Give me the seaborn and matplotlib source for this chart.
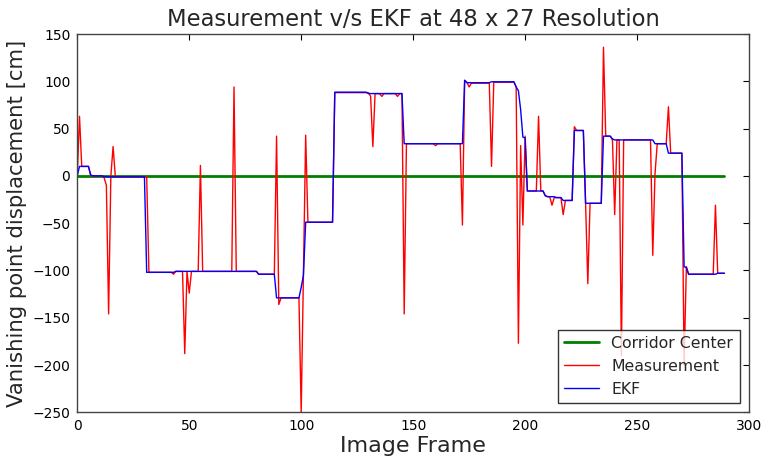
import numpy as np
import pandas as pd
import matplotlib
matplotlib.use("Agg")
import matplotlib.pyplot as plt
import seaborn as sns

title = "Measurement v/s EKF at 48 x 27 Resolution"
xlabel = "Image Frame"
ylabel = "Vanishing point displacement [cm]"
series_names = ["Corridor Center", "Measurement", "EKF"]
xticks = [0, 50, 100, 150, 200, 250, 300]
yticks = [-250, -200, -150, -100, -50, 0, 50, 100, 150]

measurement = [
    0, 63, 10, 10, 10, 10, 0, 0, 0, 0,
    0, 0, -2, -10, -146, 0, 31, -1, -1, -1,
    -1, -1, -1, -1, -1, -1, -1, -1, -1, -1,
    -1, -1, -102, -102, -102, -102, -102, -102, -102, -102,
    -102, -102, -102, -104, -101, -101, -101, -101, -188, -101,
    -124, -101, -101, -101, -101, 11, -101, -101, -101, -101,
    -101, -101, -101, -101, -101, -101, -101, -101, -101, -101,
    94, -101, -101, -101, -101, -101, -101, -101, -101, -101,
    -101, -104, -104, -104, -104, -104, -104, -104, -104, 42,
    -136, -129, -129, -129, -129, -129, -129, -129, -129, -129,
    -250, -105, 43, -49, -49, -49, -49, -49, -49, -49,
    -49, -49, -49, -49, -49, 88, 88, 88, 88, 88,
    88, 88, 88, 88, 88, 88, 88, 88, 88, 88,
    88, 84, 31, 87, 87, 87, 84, 87, 87, 87,
    87, 87, 87, 84, 87, 87, -146, 34, 34, 34,
    34, 34, 34, 34, 34, 34, 34, 34, 34, 34,
    32, 34, 34, 34, 34, 34, 34, 34, 34, 34,
    34, 34, -52, 101, 99, 94, 98, 98, 98, 98,
    98, 98, 98, 98, 98, 10, 99, 99, 99, 99,
    99, 99, 99, 99, 99, 99, 94, -177, 32, -52,
    42, -16, -16, -16, -16, -16, 63, -16, -16, -21,
    -22, -22, -31, -23, -23, -23, -23, -41, -26, -26,
    -26, -26, 52, 48, 48, 48, 48, -29, -114, -29,
    -29, -29, -29, -29, -29, 136, 42, 42, 42, 38,
    -41, 38, 38, -190, 38, 38, 38, 38, 38, 38,
    38, 38, 38, 38, 38, 38, 38, -84, 2, 34,
    34, 34, 34, 34, 73, 24, 24, 24, 24, 24,
    24, -200, -96, -104, -104, -104, -104, -104, -104, -104,
    -104, -104, -104, -104, -104, -31, -103, -103, -103, -103,
]

ekf = [
    0, 10, 10, 10, 10, 10, 1, 0, 0, 0,
    0, 0, -1, -1, -1, -1, -1, -1, -1, -1,
    -1, -1, -1, -1, -1, -1, -1, -1, -1, -1,
    -1, -102, -102, -102, -102, -102, -102, -102, -102, -102,
    -102, -102, -102, -102, -101, -101, -101, -101, -101, -101,
    -101, -101, -101, -101, -101, -101, -101, -101, -101, -101,
    -101, -101, -101, -101, -101, -101, -101, -101, -101, -101,
    -101, -101, -101, -101, -101, -101, -101, -101, -101, -101,
    -101, -104, -104, -104, -104, -104, -104, -104, -104, -129,
    -129, -129, -129, -129, -129, -129, -129, -129, -129, -129,
    -118, -105, -49, -49, -49, -49, -49, -49, -49, -49,
    -49, -49, -49, -49, -49, 88.5, 88.5, 88.5, 88.5, 88.5,
    88.5, 88.5, 88.5, 88.5, 88.5, 88.5, 88.5, 88.5, 88.5, 88.5,
    87, 87, 87, 87, 87, 87, 87, 87, 87, 87,
    87, 87, 87, 87, 87, 87, 34, 34, 34, 34,
    34, 34, 34, 34, 34, 34, 34, 34, 34, 34,
    34, 34, 34, 34, 34, 34, 34, 34, 34, 34,
    34, 34, 34, 101, 98.5, 98.5, 98.5, 98.5, 98.5, 98.5,
    98.5, 98.5, 98.5, 98.5, 98.5, 99.5, 99.5, 99.5, 99.5, 99.5,
    99.5, 99.5, 99.5, 99.5, 99.5, 99.5, 94, 90, 70, 41,
    40, -16, -16, -16, -16, -16, -16, -16, -16, -21,
    -22, -22, -22, -22, -23, -23, -23, -26, -26, -26,
    -26, -26, 48, 48, 48, 48, 48, -29, -29, -29,
    -29, -29, -29, -29, -29, 42, 42, 42, 42, 39,
    38, 38, 38, 38, 38, 38, 38, 38, 38, 38,
    38, 38, 38, 38, 38, 38, 38, 38, 34, 34,
    34, 34, 34, 34, 24, 24, 24, 24, 24, 24,
    24, -96, -97, -104, -104, -104, -104, -104, -104, -104,
    -104, -104, -104, -104, -104, -104, -103, -103, -103, -103,
]

corridor = [0] * len(measurement)
frames = list(range(len(measurement)))

df = pd.DataFrame({
    "frame": frames * 3,
    "value": corridor + measurement + ekf,
    "series": [series_names[0]] * len(frames)
    + [series_names[1]] * len(frames)
    + [series_names[2]] * len(frames),
})

sns.set_style("white")
plt.rcParams["font.family"] = ["DejaVu Sans"]

fig = plt.figure(figsize=(7.62, 4.62), dpi=100, facecolor="white")
ax = fig.add_axes([0.1014, 0.1076, 0.8816, 0.8188])

palette = {series_names[0]: "#008000", series_names[1]: "#ff0000", series_names[2]: "#0000ff"}
widths = {series_names[0]: 2.0, series_names[1]: 1.0, series_names[2]: 1.0}
for name in series_names:
    sub = df[df["series"] == name]
    sns.lineplot(data=sub, x="frame", y="value", ax=ax, color=palette[name],
                 linewidth=widths[name], label=name, estimator=None)

ax.set_xlim(0, 300)
ax.set_ylim(-250, 150)
ax.set_xticks(xticks)
ax.set_yticks(yticks)
ax.tick_params(direction="in", top=True, right=True, length=4, width=0.8,
               labelsize=10, colors="black", pad=5)
for s in ax.spines.values():
    s.set_color("#444444")
    s.set_linewidth(1.0)
    s.set_visible(True)

ax.set_title(title, fontsize=16.3, pad=6)
ax.set_xlabel(xlabel, fontsize=16, labelpad=2)
ax.set_ylabel(ylabel, fontsize=15.3, labelpad=4)

leg = ax.legend(loc="lower right", fontsize=11.3, frameon=True, fancybox=False,
                borderaxespad=0.6, handlelength=2.2)
leg.get_frame().set_edgecolor("black")
leg.get_frame().set_linewidth(1.0)

fig.savefig("out.png", dpi=100, facecolor="white")
